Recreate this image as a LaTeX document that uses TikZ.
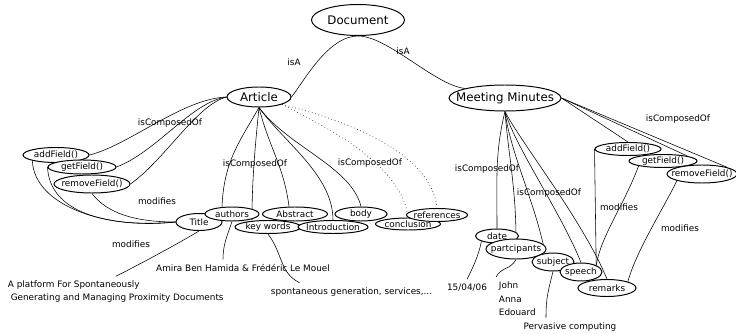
\documentclass[tikz,border=0pt]{standalone}
\usepackage{fontspec}
\setmainfont{DejaVu Sans}
\usetikzlibrary{shapes.geometric,backgrounds}
\newcommand\nb[1]{\makebox[0pt]{#1}}
\tikzset{
  every node/.style={font=\fontsize{6.3}{7.5}\selectfont},
  big/.style={ellipse, draw, fill=white, inner sep=0pt, line width=0.7pt, font=\fontsize{8.4}{10}\selectfont},
  fld/.style={ellipse, draw, fill=white, inner sep=0pt, line width=0.7pt},
  sz/.style 2 args={minimum width=#1*0.025cm, minimum height=#2*0.025cm},
  link/.style={line width=0.7pt},
  weak/.style={dotted, line width=0.45pt}
}
\begin{document}
\begin{tikzpicture}[x=0.025cm, y=-0.025cm]
\useasboundingbox (0,0) rectangle (736,334);
\node[big, sz={93}{31}] (doc) at (358,20) {\nb{Document}};
\node[big, sz={64}{20}] (art) at (259,97) {\nb{Article}};
\node[big, sz={112}{26}] (mm) at (505,98) {\nb{Meeting Minutes}};
\node[fld, sz={66}{15}] (add) at (56,155) {\nb{addField()}};
\node[fld, sz={68}{14}] (get) at (82,167) {\nb{getField()}};
\node[fld, sz={76}{18}] (rem) at (92,184) {\nb{removeField()}};
\node[fld, sz={46}{17}] (tit) at (199,222) {\nb{Title}};
\node[fld, sz={54}{14}] (aut) at (232,214) {\nb{authors}};
\node[fld, sz={66}{13}] (kw) at (268,227) {\nb{key words}};
\node[fld, sz={65}{14}] (abs) at (295,214) {\nb{Abstract}};
\node[fld, sz={70}{13}] (intro) at (333,227) {\nb{Introduction}};
\node[fld, sz={52}{14}] (bod) at (361,214) {\nb{body}};
\node[fld, sz={65}{12}] (con) at (408,224) {\nb{conclusion}};
\node[fld, sz={61}{13}] (refs) at (437,215) {\nb{references}};
\node[fld, sz={66}{13}] (addR) at (628,149) {\nb{addField()}};
\node[fld, sz={68}{13}] (getR) at (663,161) {\nb{getField()}};
\node[fld, sz={70}{18}] (remR) at (702,174) {\nb{removeField()}};
\node[fld, sz={43}{14}] (dt) at (497,236) {\nb{date}};
\node[fld, sz={60}{20}] (par) at (516,249) {\nb{partcipants}};
\node[fld, sz={42}{18}] (sub) at (553,262) {\nb{subject}};
\node[fld, sz={42}{18}] (sp) at (581,272) {\nb{speech}};
\node[fld, sz={58}{17}] (rmk) at (607,288) {\nb{remarks}};

\node (isa1) at (294,62) {isA};
\node (isa2) at (403,51) {isA};
\node (ico1) at (170,123) {isComposedOf};
\node (ico2) at (255,164) {isComposedOf};
\node (ico3) at (370,163) {isComposedOf};
\node (ico4) at (678,119) {isComposedOf};
\node (ico5) at (487,169) {isComposedOf};
\node (ico6) at (549,193) {isComposedOf};
\node (mod1) at (157,201) {modifies};
\node (mod2) at (131,244) {modifies};
\node (mod3) at (619,207) {modifies};
\node (mod4) at (680,228) {modifies};

\node[align=left, anchor=west, font=\fontsize{6.3}{9.2}\selectfont] (plat) at (3,292) {A platform For Spontaneously\\\hspace{2pt}Generating and Managing Proximity Documents};
\node (amira) at (243,268) {Amira Ben Hamida \& Frédéric Le Mouel};
\node[anchor=west] (spont) at (266,292) {spontaneous generation, services,...};
\node (dv) at (467,288) {15/04/06};
\node[align=left, anchor=west, font=\fontsize{6.3}{9.6}\selectfont] (jae) at (494,299) {John\\Anna\\Edouard};
\node (pc) at (570,327) {Pervasive computing};

\begin{scope}[on background layer, link]
\draw (doc.south) .. controls +(-30,0) and +(12,-15) .. (art.east);
\draw (doc.south) .. controls +(30,0) and +(-30,-3) .. (mm.north west);
\draw (art.west) .. controls +(-45,2) and +(40,-10) .. (add.east);
\draw (art.west) .. controls +(-35,5) and +(40,-15) .. (get.east);
\draw (art.west) .. controls +(-30,8) and +(35,-25) .. (rem.east);
\draw (art.south) .. controls +(-20,35) and +(2,-45) .. ([xshift=-0.25cm]aut.north);
\draw (art.south) .. controls +(-4,40) and +(0,-40) .. ([xshift=-0.4cm]kw.north);
\draw (art.south) .. controls +(10,40) and +(-5,-40) .. ([xshift=-0.15cm]abs.north);
\draw (art.south) .. controls +(25,35) and +(0,-45) .. (intro.north);
\draw (art.south) .. controls +(30,40) and +(-10,-40) .. (bod.north);
\draw[weak] (art.south east) .. controls +(50,25) and +(-5,-50) .. (con.north);
\draw[weak] (art.south east) .. controls +(80,20) and +(-5,-50) .. (refs.north);
\draw (add.south west) .. controls +(2,45) and +(-70,8) .. (tit.west);
\draw (get.west) .. controls +(2,45) and +(-70,6) .. (tit.west);
\draw (rem.south) .. controls +(15,20) and +(-40,0) .. (tit.west);
\draw (tit.south) .. controls +(-25,15) and +(20,-10) .. (plat.north);
\draw (aut.south) .. controls +(-5,15) and +(0,-15) .. ([xshift=-0.5cm]amira.north);
\draw (kw.south) .. controls +(15,20) and +(-20,-10) .. ([xshift=-1.3cm]spont.north);
\draw (mm.south) .. controls +(-10,40) and +(0,-50) .. (dt.north);
\draw (mm.south) .. controls +(3,40) and +(0,-50) .. (par.north);
\draw (mm.south) .. controls +(5,40) and +(-10,-50) .. ([xshift=-0.2cm]sub.north);
\draw (mm.south) .. controls +(10,35) and +(-20,-50) .. (sp.north);
\draw (mm.south) .. controls +(15,30) and +(-25,-60) .. (rmk.north);
\draw (mm.east) -- (addR.north);
\draw (mm.east) -- (getR.north east);
\draw (mm.east) -- (remR.north east);
\draw (addR.west) -- (sp.north east);
\draw (getR.south west) .. controls +(-15,40) and +(5,-30) .. (sp.north east);
\draw (remR.south west) .. controls +(-12,25) and +(8,-30) .. (rmk.north east);
\draw (dt.south west) .. controls +(-3,15) and +(5,-10) .. (dv.north);
\draw (par.south) .. controls +(-5,10) and +(5,-10) .. ([xshift=0.05cm]jae.north west);
\draw (sub.south) .. controls +(-5,20) and +(0,-20) .. ([xshift=-0.6cm]pc.north);
\end{scope}
\end{tikzpicture}
\end{document}
